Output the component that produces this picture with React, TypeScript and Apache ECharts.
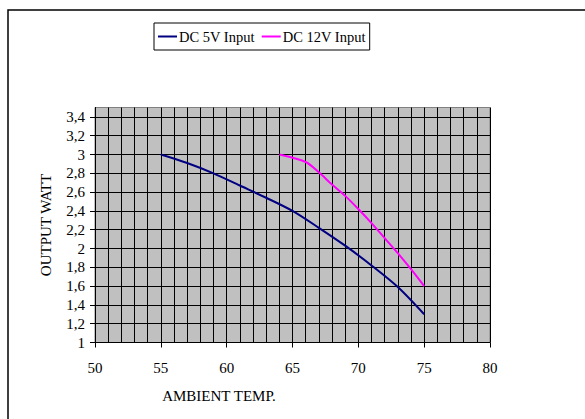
import React, { useEffect, useRef } from "react";
import * as echarts from "echarts";

const temps5V = [55, 57, 59, 61, 63, 65, 67, 69, 71, 73, 75];
const watts5V = [3.0, 2.91, 2.8, 2.67, 2.54, 2.4, 2.22, 2.03, 1.82, 1.59, 1.3];
const temps12V = [64, 66, 67, 68, 69, 70, 71, 72, 73, 74, 75];
const watts12V = [3.0, 2.92, 2.81, 2.68, 2.56, 2.42, 2.27, 2.11, 1.95, 1.78, 1.6];
const yTickValues = [1, 1.2, 1.4, 1.6, 1.8, 2, 2.2, 2.4, 2.6, 2.8, 3, 3.2, 3.4];
const seriesNames = ["DC 5V Input", "DC 12V Input"];
const seriesColors = ["#000080", "#FF00FF"];

const FONT = "'Liberation Serif', 'Times New Roman', serif";

export default function App() {
  const ref = useRef<HTMLDivElement>(null);
  useEffect(() => {
    if (!ref.current) return;
    const chart = echarts.init(ref.current, null, { renderer: "svg" });
    const pairs = (xs: number[], ys: number[]) => xs.map((x, i) => [x, ys[i]]);
    chart.setOption({
      animation: false,
      backgroundColor: "#ffffff",
      textStyle: { fontFamily: FONT, color: "#000" },
      graphic: [
        {
          type: "rect",
          shape: { x: 8, y: 10, width: 640, height: 440 },
          style: { fill: "none", stroke: "#000", lineWidth: 1.5 },
          silent: true,
        },
      ],
      legend: {
        left: 154,
        top: 23,
        orient: "horizontal",
        data: seriesNames.map((n) => ({ name: n, icon: "rect" })),
        itemWidth: 19,
        itemHeight: 2,
        itemGap: 7,
        padding: [6, 4, 6, 4],
        borderColor: "#000",
        borderWidth: 1,
        backgroundColor: "#fff",
        textStyle: {
          fontFamily: FONT,
          fontSize: 14.5,
          color: "#000",
          padding: [0, 0, 0, -3],
        },
      },
      grid: {
        left: 95,
        right: 95,
        top: 107.5,
        bottom: 76.5,
        show: true,
        backgroundColor: "#C0C0C0",
        borderColor: "#808080",
        borderWidth: 1,
        containLabel: false,
      },
      xAxis: {
        type: "value",
        min: 50,
        max: 80,
        interval: 5,
        name: "AMBIENT TEMP.",
        nameLocation: "middle",
        nameGap: 46,
        nameTextStyle: {
          fontFamily: FONT,
          fontSize: 15,
          color: "#000",
          padding: [0, 147, 0, 0],
        },
        axisLine: { show: true, lineStyle: { color: "#000", width: 1 } },
        axisTick: { show: true, length: 5, lineStyle: { color: "#000" } },
        axisLabel: {
          margin: 18,
          fontFamily: FONT,
          fontSize: 15,
          color: "#000",
        },
        splitLine: { show: true, lineStyle: { color: "#000", width: 1 } },
        minorTick: { show: false, splitNumber: 5 },
        minorSplitLine: { show: true, lineStyle: { color: "#000", width: 1 } },
      },
      yAxis: {
        type: "value",
        min: 1,
        max: 3.5,
        interval: 0.2,
        name: "OUTPUT WATT",
        nameLocation: "middle",
        nameGap: 42,
        nameTextStyle: { fontFamily: FONT, fontSize: 15, color: "#000" },
        axisLine: { show: true, lineStyle: { color: "#000", width: 1 } },
        axisTick: {
          show: true,
          length: 5,
          lineStyle: { color: "#000" },
          customValues: yTickValues,
        },
        axisLabel: {
          margin: 10,
          fontFamily: FONT,
          fontSize: 15,
          color: "#000",
          customValues: yTickValues,
          formatter: (v: number) => String(Number(v.toFixed(1))).replace(".", ","),
        },
        splitLine: { show: true, lineStyle: { color: "#000", width: 1 } },
      },
      series: [
        {
          name: seriesNames[0],
          type: "line",
          data: pairs(temps5V, watts5V),
          showSymbol: false,
          smooth: 0.3,
          lineStyle: { color: seriesColors[0], width: 2 },
          itemStyle: { color: seriesColors[0] },
        },
        {
          name: seriesNames[1],
          type: "line",
          data: pairs(temps12V, watts12V),
          showSymbol: false,
          smooth: 0.3,
          lineStyle: { color: seriesColors[1], width: 2 },
          itemStyle: { color: seriesColors[1] },
        },
      ],
    });
    return () => chart.dispose();
  }, []);
  return (
    <div
      ref={ref}
      style={{ position: "absolute", left: 0, top: 0, width: 585, height: 419 }}
    />
  );
}
